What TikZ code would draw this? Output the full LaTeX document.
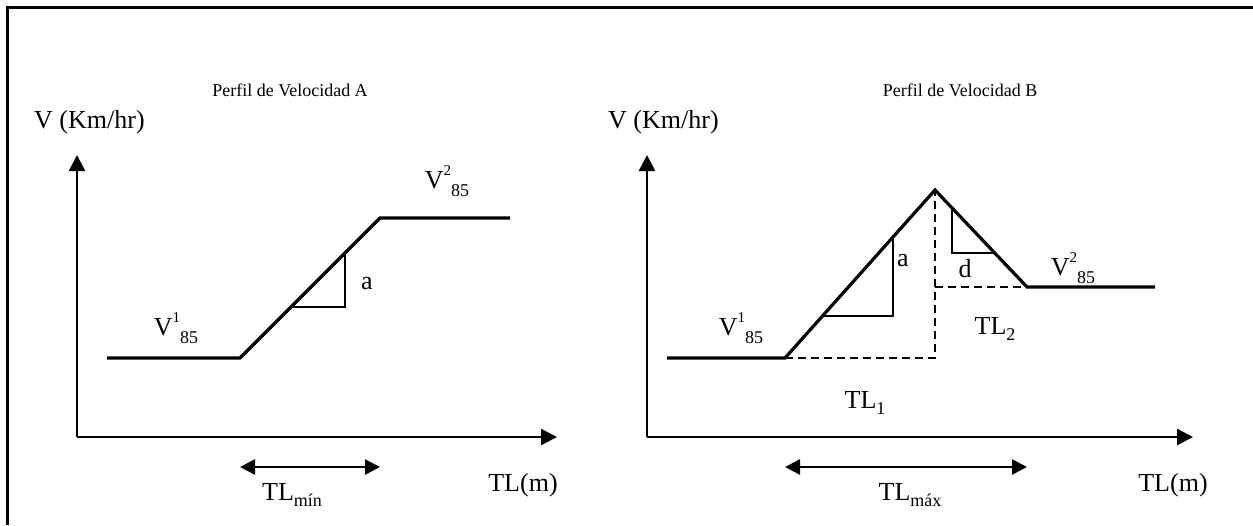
\documentclass[tikz,border=0pt]{standalone}
\usepackage{fontspec}
\setmainfont{Liberation Serif}
\usetikzlibrary{arrows.meta}
\newcommand{\Vsup}[2]{V\raisebox{0.5em}{\fontsize{15}{15}\selectfont #1}\raisebox{-0.28em}{\fontsize{18}{18}\selectfont #2}}
\newcommand{\TLsub}[1]{TL\raisebox{-0.22em}{\fontsize{18}{18}\selectfont #1}}
\begin{document}
\begin{tikzpicture}[x=1pt,y=-1pt,
  frame/.style={line width=3pt},
  axis/.style={line width=2.5pt,-{Triangle[length=16pt,width=16pt]}},
  dbl/.style={line width=2.5pt,{Triangle[length=15pt,width=15pt]}-{Triangle[length=15pt,width=15pt]}},
  prof/.style={line width=3.2pt,line join=miter},
  thinline/.style={line width=1.6pt},
  dashline/.style={line width=1.6pt,dash pattern=on 8pt off 5pt},
  lbl/.style={font=\fontsize{26}{26}\selectfont,inner sep=0pt},
  ttl/.style={font=\fontsize{18}{18}\selectfont,inner sep=0pt}]
\useasboundingbox (0,0) rectangle (1253,525);
% frame
\coordinate (f1) at (7,525);
\coordinate (f2) at (7,7);
\coordinate (f3) at (1253,7);
\draw[frame] (f1) -- (f2) -- (f3);

% ---------- Panel A ----------
\node[ttl] (tA) at (290,90) {Perfil de Velocidad A};
\node[lbl,anchor=west] (vA) at (34,122) {V (Km/hr)};
\coordinate (oA) at (77,437);
\coordinate (yA) at (77,155);
\coordinate (xA) at (557,437);
\draw[axis] (oA) -- (yA);
\draw[axis] (oA) -- (xA);
\coordinate (pA0) at (107,358);
\coordinate (pA1) at (240,358);
\coordinate (pA2) at (380,218);
\coordinate (pA3) at (510,218);
\draw[prof] (pA0) -- (pA1) -- (pA2) -- (pA3);
\coordinate (tA1) at (345,253);
\coordinate (tA2) at (345,307);
\coordinate (tA3) at (291,307);
\draw[thinline] (tA1) -- (tA2) -- (tA3);
\node[lbl] (aA) at (367,284) {a};
\node[lbl] (v1A) at (176,328) {\Vsup{1}{85}};
\node[lbl] (v2A) at (447,181) {\Vsup{2}{85}};
\coordinate (dA1) at (240,467);
\coordinate (dA2) at (380,467);
\draw[dbl] (dA1) -- (dA2);
\node[lbl] (tlminA) at (292,495) {\TLsub{mín}};
\node[lbl] (tlmA) at (523,485) {TL(m)};

% ---------- Panel B ----------
\node[ttl] (tB) at (960,90) {Perfil de Velocidad B};
\node[lbl,anchor=west] (vB) at (608,122) {V (Km/hr)};
\coordinate (oB) at (647,437);
\coordinate (yB) at (647,155);
\coordinate (xB) at (1193,437);
\draw[axis] (oB) -- (yB);
\draw[axis] (oB) -- (xB);
\coordinate (pB0) at (667,358);
\coordinate (pB1) at (785,358);
\coordinate (pB2) at (935,190);
\coordinate (pB3) at (1027,287);
\coordinate (pB4) at (1155,287);
\coordinate (pBb) at (935,358);
\coordinate (pBm) at (935,287);
\draw[dashline] (pB1) -- (pBb) -- (pB2);
\draw[dashline] (pBm) -- (pB3);
\draw[prof] (pB0) -- (pB1) -- (pB2) -- (pB3) -- (pB4);
\coordinate (tB1) at (893,237);
\coordinate (tB2) at (893,316);
\coordinate (tB3) at (822.5,316);
\draw[thinline] (tB1) -- (tB2) -- (tB3);
\coordinate (tB4) at (952,208);
\coordinate (tB5) at (952,253);
\coordinate (tB6) at (995,253);
\draw[thinline] (tB4) -- (tB5) -- (tB6);
\node[lbl] (aB) at (903,261) {a};
\node[lbl] (dB) at (965,269) {d};
\node[lbl] (v1B) at (741,328) {\Vsup{1}{85}};
\node[lbl] (v2B) at (1073,268) {\Vsup{2}{85}};
\node[lbl] (tl2) at (995,329) {\TLsub{2}};
\node[lbl] (tl1) at (865,403) {\TLsub{1}};
\coordinate (dB1) at (785,467);
\coordinate (dB2) at (1027,467);
\draw[dbl] (dB1) -- (dB2);
\node[lbl] (tlmaxB) at (910,495) {\TLsub{máx}};
\node[lbl] (tlmB) at (1173,485) {TL(m)};
\end{tikzpicture}
\end{document}
